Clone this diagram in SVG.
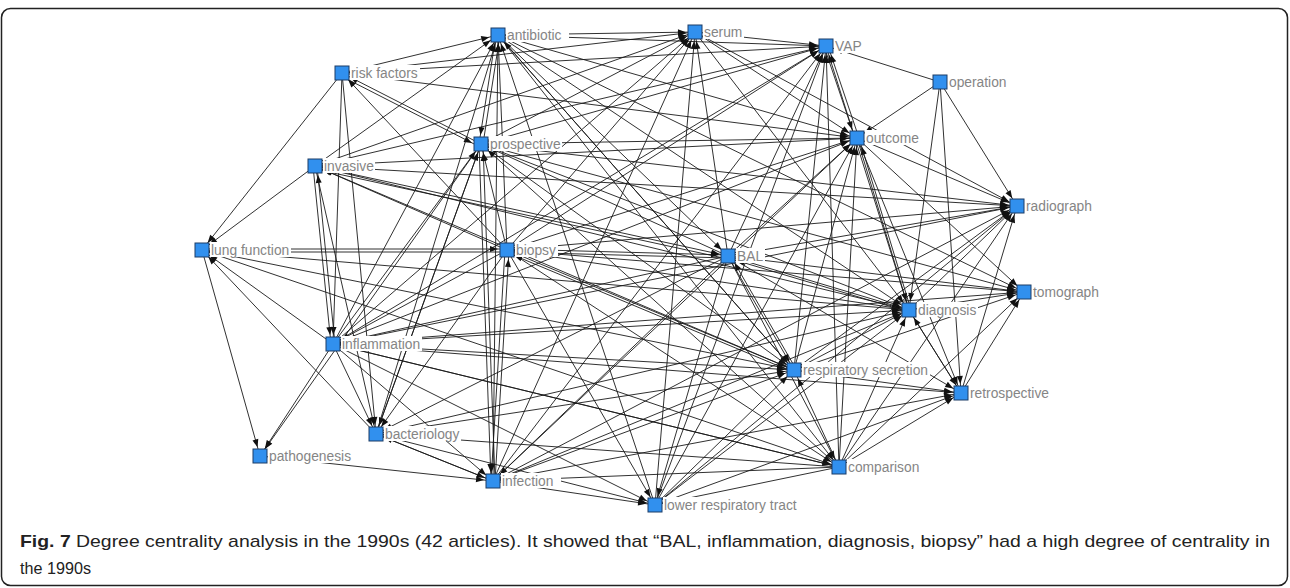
<svg xmlns="http://www.w3.org/2000/svg" width="1290" height="588" viewBox="0 0 1290 588">
<style>
.e{stroke:#1a1a1a;stroke-width:0.9;fill:none;marker-end:url(#ah)}
.nd{fill:#3190ee;stroke:#1d3c66;stroke-width:1}
.lb{fill:#fff}
.tx{font-family:"Liberation Sans",Arial,sans-serif;font-size:13.8px;fill:#858585}
.cap{font-family:"Liberation Sans",Arial,sans-serif;font-size:17px;fill:#222}
</style>
<defs>
<marker id="ah" markerUnits="userSpaceOnUse" markerWidth="10" markerHeight="8" refX="17" refY="0" orient="auto" overflow="visible">
<path d="M0,-3 L8,0 L0,3 z" fill="#111"/>
</marker>
</defs>
<rect x="1.5" y="8.5" width="1286" height="577" rx="9" fill="#fff" stroke="#222" stroke-width="1.5"/>
<g id="connectors">
<line class="e" x1="342" y1="73" x2="498" y2="35"/>
<line class="e" x1="342" y1="73" x2="695" y2="32"/>
<line class="e" x1="342" y1="73" x2="826" y2="46"/>
<line class="e" x1="342" y1="73" x2="857" y2="138"/>
<line class="e" x1="342" y1="73" x2="202" y2="250"/>
<line class="e" x1="342" y1="73" x2="333" y2="344"/>
<line class="e" x1="342" y1="73" x2="376" y2="434"/>
<line class="e" x1="481" y1="144" x2="342" y2="73"/>
<line class="e" x1="341" y1="76" x2="480" y2="147"/>
<line class="e" x1="507" y1="250" x2="342" y2="73"/>
<line class="e" x1="498" y1="35" x2="695" y2="32"/>
<line class="e" x1="498" y1="35" x2="826" y2="46"/>
<line class="e" x1="498" y1="35" x2="728" y2="256"/>
<line class="e" x1="498" y1="35" x2="909" y2="310"/>
<line class="e" x1="498" y1="35" x2="794" y2="370"/>
<line class="e" x1="498" y1="35" x2="839" y2="467"/>
<line class="e" x1="498" y1="35" x2="1024" y2="292"/>
<line class="e" x1="498" y1="35" x2="857" y2="138"/>
<line class="e" x1="695" y1="32" x2="826" y2="46"/>
<line class="e" x1="695" y1="32" x2="857" y2="138"/>
<line class="e" x1="695" y1="32" x2="1017" y2="206"/>
<line class="e" x1="695" y1="32" x2="909" y2="310"/>
<line class="e" x1="940" y1="82" x2="826" y2="46"/>
<line class="e" x1="940" y1="82" x2="857" y2="138"/>
<line class="e" x1="940" y1="82" x2="909" y2="310"/>
<line class="e" x1="940" y1="82" x2="961" y2="393"/>
<line class="e" x1="940" y1="82" x2="1017" y2="206"/>
<line class="e" x1="483" y1="144" x2="500" y2="35"/>
<line class="e" x1="496" y1="35" x2="479" y2="144"/>
<line class="e" x1="481" y1="144" x2="695" y2="32"/>
<line class="e" x1="481" y1="144" x2="826" y2="46"/>
<line class="e" x1="481" y1="144" x2="857" y2="138"/>
<line class="e" x1="481" y1="144" x2="1017" y2="206"/>
<line class="e" x1="481" y1="144" x2="909" y2="310"/>
<line class="e" x1="481" y1="144" x2="1024" y2="292"/>
<line class="e" x1="479" y1="144" x2="491" y2="481"/>
<line class="e" x1="495" y1="481" x2="483" y2="144"/>
<line class="e" x1="481" y1="144" x2="794" y2="370"/>
<line class="e" x1="481" y1="144" x2="260" y2="456"/>
<line class="e" x1="481" y1="144" x2="376" y2="434"/>
<line class="e" x1="859" y1="138" x2="828" y2="46"/>
<line class="e" x1="824" y1="46" x2="855" y2="138"/>
<line class="e" x1="857" y1="138" x2="1017" y2="206"/>
<line class="e" x1="857" y1="138" x2="1024" y2="292"/>
<line class="e" x1="857" y1="138" x2="909" y2="310"/>
<line class="e" x1="911" y1="310" x2="859" y2="138"/>
<line class="e" x1="857" y1="138" x2="961" y2="393"/>
<line class="e" x1="315" y1="166" x2="498" y2="35"/>
<line class="e" x1="315" y1="166" x2="695" y2="32"/>
<line class="e" x1="315" y1="166" x2="826" y2="46"/>
<line class="e" x1="315" y1="166" x2="857" y2="138"/>
<line class="e" x1="315" y1="166" x2="1017" y2="206"/>
<line class="e" x1="313" y1="166" x2="331" y2="344"/>
<line class="e" x1="335" y1="344" x2="317" y2="166"/>
<line class="e" x1="315" y1="166" x2="376" y2="434"/>
<line class="e" x1="315" y1="166" x2="202" y2="250"/>
<line class="e" x1="315" y1="166" x2="728" y2="256"/>
<line class="e" x1="728" y1="259" x2="315" y2="169"/>
<line class="e" x1="315" y1="166" x2="794" y2="370"/>
<line class="e" x1="315" y1="166" x2="909" y2="310"/>
<line class="e" x1="202" y1="249" x2="507" y2="249"/>
<line class="e" x1="507" y1="252" x2="202" y2="252"/>
<line class="e" x1="202" y1="250" x2="260" y2="456"/>
<line class="e" x1="202" y1="250" x2="794" y2="370"/>
<line class="e" x1="202" y1="250" x2="909" y2="310"/>
<line class="e" x1="202" y1="250" x2="839" y2="467"/>
<line class="e" x1="333" y1="344" x2="202" y2="250"/>
<line class="e" x1="376" y1="434" x2="202" y2="250"/>
<line class="e" x1="507" y1="250" x2="498" y2="35"/>
<line class="e" x1="507" y1="250" x2="481" y2="144"/>
<line class="e" x1="507" y1="250" x2="695" y2="32"/>
<line class="e" x1="507" y1="250" x2="826" y2="46"/>
<line class="e" x1="507" y1="250" x2="857" y2="138"/>
<line class="e" x1="507" y1="250" x2="1017" y2="206"/>
<line class="e" x1="507" y1="249" x2="728" y2="255"/>
<line class="e" x1="728" y1="258" x2="507" y2="252"/>
<line class="e" x1="507" y1="250" x2="909" y2="310"/>
<line class="e" x1="507" y1="250" x2="794" y2="370"/>
<line class="e" x1="793" y1="372" x2="506" y2="252"/>
<line class="e" x1="507" y1="250" x2="1024" y2="292"/>
<line class="e" x1="505" y1="250" x2="491" y2="481"/>
<line class="e" x1="495" y1="481" x2="509" y2="250"/>
<line class="e" x1="507" y1="250" x2="655" y2="505"/>
<line class="e" x1="507" y1="250" x2="333" y2="344"/>
<line class="e" x1="507" y1="250" x2="315" y2="166"/>
<line class="e" x1="507" y1="250" x2="839" y2="467"/>
<line class="e" x1="507" y1="250" x2="376" y2="434"/>
<line class="e" x1="728" y1="256" x2="826" y2="46"/>
<line class="e" x1="728" y1="256" x2="695" y2="32"/>
<line class="e" x1="728" y1="256" x2="857" y2="138"/>
<line class="e" x1="728" y1="256" x2="1017" y2="206"/>
<line class="e" x1="728" y1="256" x2="909" y2="310"/>
<line class="e" x1="909" y1="312" x2="728" y2="258"/>
<line class="e" x1="728" y1="256" x2="1024" y2="292"/>
<line class="e" x1="728" y1="256" x2="794" y2="370"/>
<line class="e" x1="796" y1="369" x2="730" y2="255"/>
<line class="e" x1="728" y1="256" x2="961" y2="393"/>
<line class="e" x1="728" y1="256" x2="839" y2="467"/>
<line class="e" x1="728" y1="256" x2="655" y2="505"/>
<line class="e" x1="728" y1="256" x2="493" y2="481"/>
<line class="e" x1="728" y1="256" x2="333" y2="344"/>
<line class="e" x1="728" y1="256" x2="376" y2="434"/>
<line class="e" x1="728" y1="256" x2="481" y2="144"/>
<line class="e" x1="909" y1="310" x2="1024" y2="292"/>
<line class="e" x1="909" y1="310" x2="1017" y2="206"/>
<line class="e" x1="909" y1="310" x2="961" y2="393"/>
<line class="e" x1="909" y1="310" x2="826" y2="46"/>
<line class="e" x1="333" y1="344" x2="498" y2="35"/>
<line class="e" x1="333" y1="344" x2="481" y2="144"/>
<line class="e" x1="333" y1="344" x2="260" y2="456"/>
<line class="e" x1="333" y1="344" x2="376" y2="434"/>
<line class="e" x1="333" y1="344" x2="493" y2="481"/>
<line class="e" x1="333" y1="344" x2="655" y2="505"/>
<line class="e" x1="333" y1="344" x2="794" y2="370"/>
<line class="e" x1="333" y1="344" x2="909" y2="310"/>
<line class="e" x1="333" y1="344" x2="839" y2="467"/>
<line class="e" x1="333" y1="344" x2="961" y2="393"/>
<line class="e" x1="333" y1="344" x2="857" y2="138"/>
<line class="e" x1="333" y1="344" x2="1017" y2="206"/>
<line class="e" x1="333" y1="344" x2="826" y2="46"/>
<line class="e" x1="333" y1="344" x2="695" y2="32"/>
<line class="e" x1="333" y1="344" x2="1024" y2="292"/>
<line class="e" x1="794" y1="370" x2="826" y2="46"/>
<line class="e" x1="794" y1="370" x2="857" y2="138"/>
<line class="e" x1="794" y1="370" x2="1017" y2="206"/>
<line class="e" x1="794" y1="370" x2="909" y2="310"/>
<line class="e" x1="794" y1="370" x2="961" y2="393"/>
<line class="e" x1="794" y1="370" x2="1024" y2="292"/>
<line class="e" x1="794" y1="370" x2="498" y2="35"/>
<line class="e" x1="961" y1="393" x2="1017" y2="206"/>
<line class="e" x1="961" y1="393" x2="1024" y2="292"/>
<line class="e" x1="961" y1="393" x2="909" y2="310"/>
<line class="e" x1="376" y1="434" x2="498" y2="35"/>
<line class="e" x1="376" y1="434" x2="481" y2="144"/>
<line class="e" x1="376" y1="434" x2="493" y2="481"/>
<line class="e" x1="376" y1="434" x2="655" y2="505"/>
<line class="e" x1="376" y1="434" x2="909" y2="310"/>
<line class="e" x1="376" y1="434" x2="794" y2="370"/>
<line class="e" x1="260" y1="456" x2="493" y2="481"/>
<line class="e" x1="839" y1="467" x2="826" y2="46"/>
<line class="e" x1="839" y1="467" x2="857" y2="138"/>
<line class="e" x1="839" y1="467" x2="1017" y2="206"/>
<line class="e" x1="839" y1="467" x2="909" y2="310"/>
<line class="e" x1="839" y1="467" x2="961" y2="393"/>
<line class="e" x1="839" y1="467" x2="1024" y2="292"/>
<line class="e" x1="839" y1="467" x2="794" y2="370"/>
<line class="e" x1="839" y1="467" x2="376" y2="434"/>
<line class="e" x1="839" y1="467" x2="333" y2="344"/>
<line class="e" x1="839" y1="467" x2="655" y2="505"/>
<line class="e" x1="839" y1="467" x2="493" y2="481"/>
<line class="e" x1="839" y1="467" x2="481" y2="144"/>
<line class="e" x1="493" y1="481" x2="498" y2="35"/>
<line class="e" x1="493" y1="481" x2="695" y2="32"/>
<line class="e" x1="493" y1="481" x2="826" y2="46"/>
<line class="e" x1="493" y1="481" x2="857" y2="138"/>
<line class="e" x1="493" y1="481" x2="1017" y2="206"/>
<line class="e" x1="493" y1="481" x2="909" y2="310"/>
<line class="e" x1="493" y1="481" x2="794" y2="370"/>
<line class="e" x1="493" y1="481" x2="961" y2="393"/>
<line class="e" x1="493" y1="481" x2="655" y2="505"/>
<line class="e" x1="493" y1="481" x2="376" y2="434"/>
<line class="e" x1="655" y1="505" x2="826" y2="46"/>
<line class="e" x1="655" y1="505" x2="695" y2="32"/>
<line class="e" x1="655" y1="505" x2="498" y2="35"/>
<line class="e" x1="655" y1="505" x2="857" y2="138"/>
<line class="e" x1="655" y1="505" x2="909" y2="310"/>
<line class="e" x1="655" y1="505" x2="794" y2="370"/>
<line class="e" x1="655" y1="505" x2="961" y2="393"/>
<line class="e" x1="655" y1="505" x2="1017" y2="206"/>
</g>
<g id="n-antibiotic"><rect class="lb" x="506" y="27" width="63" height="15"/><rect class="nd" x="491" y="28" width="14" height="14"/><text class="tx" x="507" y="40">antibiotic</text></g>
<g id="n-serum"><rect class="lb" x="703" y="24" width="41" height="15"/><rect class="nd" x="688" y="25" width="14" height="14"/><text class="tx" x="704" y="37">serum</text></g>
<g id="n-vap"><rect class="lb" x="834" y="38" width="30" height="15"/><rect class="nd" x="819" y="39" width="14" height="14"/><text class="tx" x="835" y="51">VAP</text></g>
<g id="n-risk-factors"><rect class="lb" x="350" y="65" width="70" height="15"/><rect class="nd" x="335" y="66" width="14" height="14"/><text class="tx" x="351" y="78">risk factors</text></g>
<g id="n-operation"><rect class="lb" x="948" y="74" width="60" height="15"/><rect class="nd" x="933" y="75" width="14" height="14"/><text class="tx" x="949" y="87">operation</text></g>
<g id="n-prospective"><rect class="lb" x="489" y="136" width="73" height="15"/><rect class="nd" x="474" y="137" width="14" height="14"/><text class="tx" x="490" y="149">prospective</text></g>
<g id="n-outcome"><rect class="lb" x="865" y="130" width="56" height="15"/><rect class="nd" x="850" y="131" width="14" height="14"/><text class="tx" x="866" y="143">outcome</text></g>
<g id="n-invasive"><rect class="lb" x="323" y="158" width="52" height="15"/><rect class="nd" x="308" y="159" width="14" height="14"/><text class="tx" x="324" y="171">invasive</text></g>
<g id="n-radiograph"><rect class="lb" x="1025" y="198" width="69" height="15"/><rect class="nd" x="1010" y="199" width="14" height="14"/><text class="tx" x="1026" y="211">radiograph</text></g>
<g id="n-lung-function"><rect class="lb" x="210" y="242" width="81" height="15"/><rect class="nd" x="195" y="243" width="14" height="14"/><text class="tx" x="211" y="255">lung function</text></g>
<g id="n-biopsy"><rect class="lb" x="515" y="242" width="43" height="15"/><rect class="nd" x="500" y="243" width="14" height="14"/><text class="tx" x="516" y="255">biopsy</text></g>
<g id="n-bal"><rect class="lb" x="736" y="248" width="29" height="15"/><rect class="nd" x="721" y="249" width="14" height="14"/><text class="tx" x="737" y="261">BAL</text></g>
<g id="n-tomograph"><rect class="lb" x="1032" y="284" width="69" height="15"/><rect class="nd" x="1017" y="285" width="14" height="14"/><text class="tx" x="1033" y="297">tomograph</text></g>
<g id="n-diagnosis"><rect class="lb" x="917" y="302" width="61" height="15"/><rect class="nd" x="902" y="303" width="14" height="14"/><text class="tx" x="918" y="315">diagnosis</text></g>
<g id="n-inflammation"><rect class="lb" x="341" y="336" width="81" height="15"/><rect class="nd" x="326" y="337" width="14" height="14"/><text class="tx" x="342" y="349">inflammation</text></g>
<g id="n-respiratory-secretion"><rect class="lb" x="802" y="362" width="128" height="15"/><rect class="nd" x="787" y="363" width="14" height="14"/><text class="tx" x="803" y="375">respiratory secretion</text></g>
<g id="n-retrospective"><rect class="lb" x="969" y="385" width="82" height="15"/><rect class="nd" x="954" y="386" width="14" height="14"/><text class="tx" x="970" y="398">retrospective</text></g>
<g id="n-bacteriology"><rect class="lb" x="384" y="426" width="77" height="15"/><rect class="nd" x="369" y="427" width="14" height="14"/><text class="tx" x="385" y="439">bacteriology</text></g>
<g id="n-pathogenesis"><rect class="lb" x="268" y="448" width="86" height="15"/><rect class="nd" x="253" y="449" width="14" height="14"/><text class="tx" x="269" y="461">pathogenesis</text></g>
<g id="n-comparison"><rect class="lb" x="847" y="459" width="74" height="15"/><rect class="nd" x="832" y="460" width="14" height="14"/><text class="tx" x="848" y="472">comparison</text></g>
<g id="n-infection"><rect class="lb" x="501" y="473" width="60" height="15"/><rect class="nd" x="486" y="474" width="14" height="14"/><text class="tx" x="502" y="486">infection</text></g>
<g id="n-lower-respiratory-tract"><rect class="lb" x="663" y="497" width="136" height="15"/><rect class="nd" x="648" y="498" width="14" height="14"/><text class="tx" x="664" y="510">lower respiratory tract</text></g>
<g id="caption">
<text class="cap" x="20" y="547" textLength="1250" lengthAdjust="spacingAndGlyphs"><tspan font-weight="bold">Fig. 7</tspan> Degree centrality analysis in the 1990s (42 articles). It showed that “BAL, inflammation, diagnosis, biopsy” had a high degree of centrality in</text>
<text class="cap" x="20" y="574" textLength="71" lengthAdjust="spacingAndGlyphs">the 1990s</text>
</g>
</svg>
